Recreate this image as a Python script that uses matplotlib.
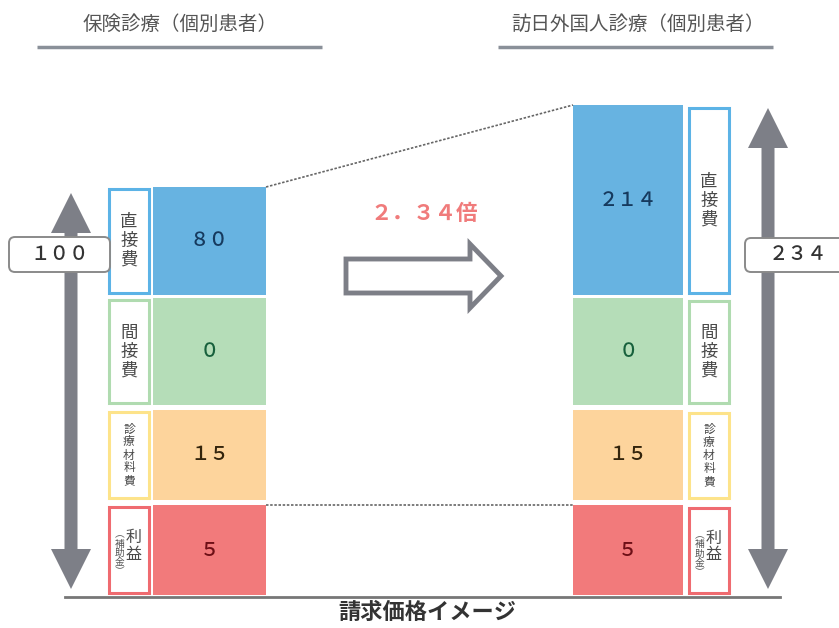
import matplotlib
matplotlib.use('Agg')
import matplotlib.pyplot as plt
from matplotlib.patches import Rectangle, Polygon, FancyBboxPatch

plt.rcParams['font.family'] = ['Noto Sans CJK JP', 'DejaVu Sans']

# data
categories = ['直接費', '間接費', '診療材料費', '利益']
hoken_values = [80, 0, 15, 5]
hounichi_values = [214, 0, 15, 5]
hoken_total = 100
hounichi_total = 234
ratio = 2.34
left_title = '保険診療（個別患者）'
right_title = '訪日外国人診療（個別患者）'
bottom_title = '請求価格イメージ'

# styles
fill_colors = ['#67b3e1', '#b5ddb8', '#fdd49c', '#f27a7b']
edge_colors = ['#5cb3e6', '#b0dbb0', '#fde38a', '#ef6b70']
text_colors = ['#163a5e', '#17603c', '#33240c', '#6e0f16']
gray = '#7d7f87'


def zen(s):
    # half-width -> full-width digits / dot
    table = str.maketrans('0123456789.', '０１２３４５６７８９．')
    return s.translate(table)


# pixel layout (y downwards)
rows_left = [(187, 295), (298, 405), (410, 500), (505, 595)]
rows_right = [(105, 295), (298, 405), (410, 500), (505, 595)]

fig = plt.figure(figsize=(8.39, 6.28), dpi=100)
ax = fig.add_axes([0, 0, 1, 1])
ax.set_xlim(0, 839)
ax.set_ylim(628, 0)
ax.axis('off')

# titles
ax.text(180, 24, left_title, ha='center', va='center', fontsize=14, color='#555555')
ax.plot([37, 322], [47, 47], color='#8a9099', lw=2.5, solid_capstyle='butt')
ax.text(638, 24, right_title, ha='center', va='center', fontsize=14, color='#555555')
ax.plot([498, 773], [47, 47], color='#8a9099', lw=2.5, solid_capstyle='butt')


def label_box(x0, x1, y0, y1, i):
    ax.add_patch(Rectangle((x0, y0), x1 - x0, y1 - y0, facecolor='white',
                           edgecolor=edge_colors[i], lw=2.2))
    cx = (x0 + x1) / 2
    cy = (y0 + y1) / 2
    name = categories[i]
    if i == 3:
        ax.text(cx + 5, cy - 4, '\n'.join(name), ha='center', va='center',
                fontsize=11.5, color='#4a4a4a', linespacing=1.0)
        ax.text(cx - 9, cy + 3, '\n'.join('︵補助金︶'), ha='center', va='center',
                fontsize=7, color='#555555', linespacing=0.9)
    elif len(name) > 3:
        ax.text(cx, cy, '\n'.join(name), ha='center', va='center',
                fontsize=8.5, color='#4a4a4a', linespacing=1.0)
    else:
        ax.text(cx, cy, '\n'.join(name), ha='center', va='center',
                fontsize=12.5, color='#4a4a4a', linespacing=1.05)


def value_box(x0, x1, y0, y1, i, v):
    ax.add_patch(Rectangle((x0, y0), x1 - x0, y1 - y0, facecolor=fill_colors[i],
                           edgecolor='none'))
    ax.text((x0 + x1) / 2, (y0 + y1) / 2, zen(str(v)), ha='center',
            va='center', fontsize=14, fontweight='medium', color=text_colors[i])


for i, (y0, y1) in enumerate(rows_left):
    label_box(109, 149, y0 + 2, y1 - 2, i)
    value_box(153, 266, y0, y1, i, hoken_values[i])

for i, (y0, y1) in enumerate(rows_right):
    value_box(573, 683, y0, y1, i, hounichi_values[i])
    label_box(689, 729, y0 + 3, y1 - 2, i)

# connecting dotted lines
ax.plot([266, 573], [187, 105], color='#666666', lw=1.2, ls=(0, (1.5, 1)))
ax.plot([266, 573], [505, 505], color='#666666', lw=1.2, ls=(0, (1.5, 1)))


def double_arrow(cx, top, bottom, hw=20, hl=40, sw=6.5):
    pts = [(cx, top), (cx + hw, top + hl), (cx + sw, top + hl), (cx + sw, bottom - hl),
           (cx + hw, bottom - hl), (cx, bottom), (cx - hw, bottom - hl),
           (cx - sw, bottom - hl), (cx - sw, top + hl), (cx - hw, top + hl)]
    ax.add_patch(Polygon(pts, closed=True, facecolor=gray, edgecolor='none'))


double_arrow(71, 193, 589)
double_arrow(768, 108, 589)


def total_box(x0, x1, y0, y1, total):
    ax.add_patch(FancyBboxPatch((x0, y0), x1 - x0, y1 - y0,
                                boxstyle='round,pad=0,rounding_size=6',
                                facecolor='white', edgecolor='#8a8a8a', lw=1.4))
    ax.text((x0 + x1) / 2, (y0 + y1) / 2, zen(str(total)), ha='center',
            va='center', fontsize=14, fontweight='medium', color='#333333')


total_box(9, 110, 237, 272, hoken_total)
total_box(745, 850, 238, 272, hounichi_total)

# ratio text and hollow arrow
ax.text(424, 213, zen(f'{ratio:.2f}') + '倍',
        ha='center', va='center', fontsize=15.5, fontweight='bold', color='#f07b7b')
arrow_pts = [(346, 259), (470, 259), (470, 244), (501, 276), (470, 308),
             (470, 293), (346, 293)]
ax.add_patch(Polygon(arrow_pts, closed=True, facecolor='white', edgecolor=gray,
                     lw=3.5, joinstyle='miter'))

# baseline and bottom title
ax.plot([65, 780], [597, 597], color='#777777', lw=2)
ax.text(427, 612, bottom_title, ha='center', va='center', fontsize=16,
        fontweight='bold', color='#333333')

fig.savefig('out.png', dpi=100)
